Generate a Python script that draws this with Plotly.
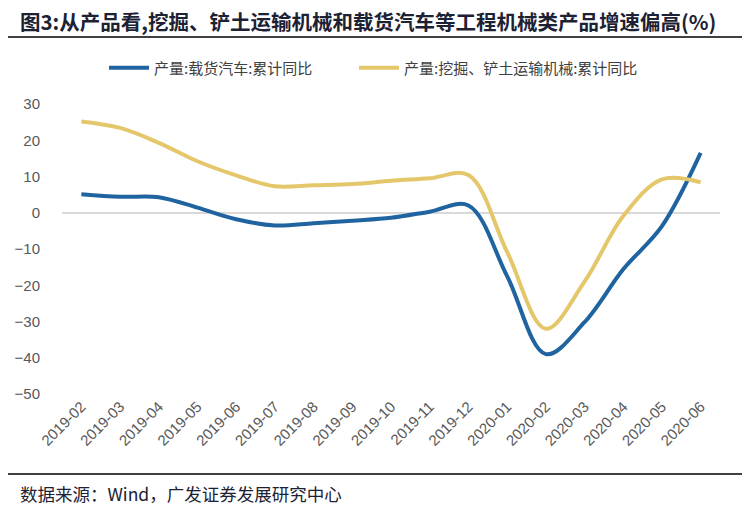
import plotly.graph_objects as go

months = ["2019-02", "2019-03", "2019-04", "2019-05", "2019-06", "2019-07", "2019-08",
          "2019-09", "2019-10", "2019-11", "2019-12", "2020-01", "2020-02", "2020-03",
          "2020-04", "2020-05", "2020-06"]
truck = [5.1, 4.4, 4.3, 1.4, -1.8, -3.5, -2.9, -2.2, -1.4, 0.3, 2.0, -17.5, -39.0,
         -30.2, -15.6, -3.7, 16.5]
excavator = [25.2, 23.4, 19.3, 14.2, 10.3, 7.3, 7.6, 7.9, 8.8, 9.5, 10.4, -10.8, -32.0,
             -19.0, -0.9, 9.2, 8.4]
name_truck = "产量:载货汽车:累计同比"
name_exc = "产量:挖掘、铲土运输机械:累计同比"
y_ticks = [30, 20, 10, 0, -10, -20, -30, -40, -50]

# the page body has an 8px margin; work in page pixels and shift by OFF
OFF = 8
W, H = 750 - OFF, 510 - OFF
L, R, T, B = 62 - OFF, 30, 104 - OFF, 116
pw, ph = W - L - R, H - T - B

def px_x(p):
    return (p - OFF - L) / pw

def px_y(p):
    return (H - B - (p - OFF)) / ph

fig = go.Figure()
fig.add_trace(go.Scatter(x=months, y=truck, name=name_truck, mode="lines", legend="legend",
                         line=dict(color="#1F64A0", width=4, shape="spline")))
fig.add_trace(go.Scatter(x=months, y=excavator, name=name_exc, mode="lines", legend="legend2",
                         line=dict(color="#E5C76B", width=4, shape="spline")))

cjk = "Noto Sans CJK SC"
legend_font = dict(family=cjk, size=15, color="#404040")
fig.update_layout(
    width=W, height=H,
    margin=dict(l=L, r=R, t=T, b=B, autoexpand=False),
    paper_bgcolor="white", plot_bgcolor="white",
    font=dict(family="Liberation Sans, Arial", color="#595959"),
    annotations=[
        dict(text="<b>图3:从产品看,挖掘、铲土运输机械和载货汽车等工程机械类产品增速偏高(%)</b>",
             xref="paper", yref="paper", x=px_x(18), y=px_y(21),
             xanchor="left", yanchor="middle", showarrow=False,
             font=dict(family=cjk, size=20.5, color="#1C2233")),
        dict(text="数据来源：Wind，广发证券发展研究中心", xref="paper", yref="paper",
             x=px_x(18), y=px_y(493), xanchor="left", yanchor="middle", showarrow=False,
             font=dict(family=cjk, size=17.5, color="#1C2233")),
    ],
    legend=dict(orientation="h", x=px_x(104), xanchor="left", y=px_y(68), yanchor="middle",
                font=legend_font, itemwidth=40),
    legend2=dict(orientation="h", x=px_x(354), xanchor="left", y=px_y(68), yanchor="middle",
                 font=legend_font, itemwidth=40),
    showlegend=True,
    xaxis=dict(type="category", range=[-0.5, len(months) - 0.5], tickangle=-45,
               showgrid=False, zeroline=False, showline=False, ticks="",
               tickfont=dict(size=15, color="#595959")),
    yaxis=dict(range=[-50, 30], tickvals=y_ticks, showgrid=False,
               zeroline=True, zerolinecolor="#D9D9D9", zerolinewidth=2,
               showline=False, ticks="", ticklabelstandoff=21,
               tickfont=dict(size=15, color="#595959")),
    shapes=[
        dict(type="line", xref="paper", yref="paper", x0=px_x(5), x1=px_x(745),
             y0=px_y(37), y1=px_y(37), line=dict(color="#000000", width=1.5)),
        dict(type="line", xref="paper", yref="paper", x0=px_x(5), x1=px_x(745),
             y0=px_y(474), y1=px_y(474), line=dict(color="#000000", width=1.5)),
    ],
)

fig.write_html("out.html")
